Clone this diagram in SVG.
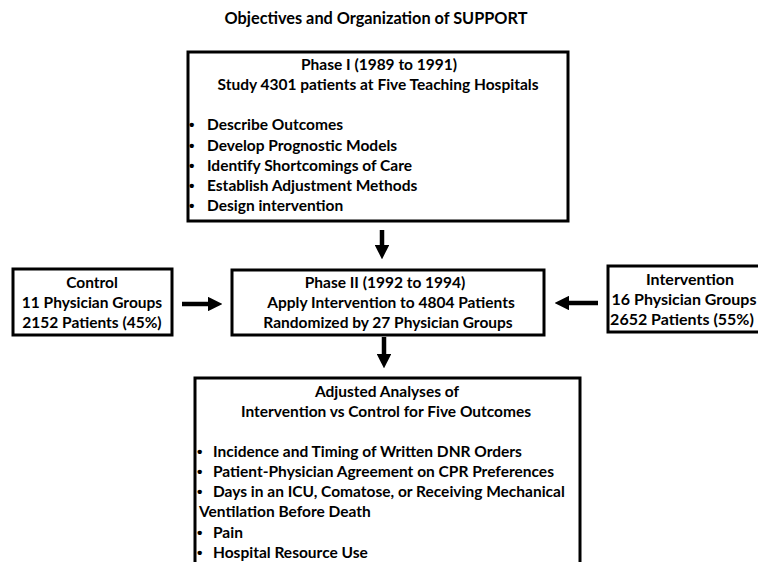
<svg xmlns="http://www.w3.org/2000/svg" width="758" height="562" viewBox="0 0 758 562">
<style>
text{font-family:Lato,"Liberation Sans",sans-serif;font-weight:bold;font-size:15.5px;fill:#000}
.c{text-anchor:middle}
.t{font-size:16.3px}
.iv{font-size:16px}
.box{fill:#fff;stroke:#000;stroke-width:3}
.b{font-family:"Liberation Sans",sans-serif}
</style>
<defs>
<marker id="ah" markerWidth="3.2" markerHeight="3.2" refX="0" refY="1.6" orient="auto" markerUnits="strokeWidth" viewBox="0 0 3.2 3.2">
<path d="M0,0 L3.2,1.6 L0,3.2 Z" fill="#000"/>
</marker>
</defs>
<rect width="758" height="562" fill="#fff"/>
<text class="c t" x="376" y="24">Objectives and Organization of SUPPORT</text>
<g id="phase1">
<rect class="box" x="188" y="52" width="380" height="169"/>
<text class="c" x="379" y="70">Phase I (1989 to 1991)</text>
<text class="c" x="378" y="90">Study 4301 patients at Five Teaching Hospitals</text>
<text class="b" x="189" y="130">•</text><text x="207" y="130">Describe Outcomes</text>
<text class="b" x="189" y="151">•</text><text x="207" y="151">Develop Prognostic Models</text>
<text class="b" x="189" y="171">•</text><text x="207" y="171">Identify Shortcomings of Care</text>
<text class="b" x="189" y="191">•</text><text x="207" y="191">Establish Adjustment Methods</text>
<text class="b" x="189" y="211">•</text><text x="207" y="211">Design intervention</text>
</g>
<g id="control">
<rect class="box" x="13" y="269" width="159" height="66"/>
<text class="c" x="92" y="288">Control</text>
<text class="c" x="92" y="308">11 Physician Groups</text>
<text class="c" x="92" y="328">2152 Patients (45%)</text>
</g>
<g id="phase2">
<rect class="box" x="232" y="270" width="312" height="65"/>
<text class="c" x="385" y="288">Phase II (1992 to 1994)</text>
<text class="c" x="391" y="308">Apply Intervention to 4804 Patients</text>
<text class="c" x="388" y="328">Randomized by 27 Physician Groups</text>
</g>
<g id="intervention">
<rect class="box" x="608" y="266" width="170" height="66"/>
<text class="c iv" x="690" y="285">Intervention</text>
<text class="c iv" x="684" y="305">16 Physician Groups</text>
<text class="c iv" x="682" y="325">2652 Patients (55%)</text>
</g>
<g id="outcomes">
<rect class="box" x="195" y="378" width="385" height="200"/>
<text class="c" x="387" y="397">Adjusted Analyses of</text>
<text class="c" x="386" y="417">Intervention vs Control for Five Outcomes</text>
<text class="b" x="197" y="457">•</text><text x="213" y="457">Incidence and Timing of Written DNR Orders</text>
<text class="b" x="197" y="477">•</text><text x="213" y="477">Patient-Physician Agreement on CPR Preferences</text>
<text class="b" x="197" y="497">•</text><text x="213" y="497">Days in an ICU, Comatose, or Receiving Mechanical</text>
<text x="199" y="517">Ventilation Before Death</text>
<text class="b" x="197" y="538">•</text><text x="213" y="538">Pain</text>
<text class="b" x="197" y="558">•</text><text x="213" y="558">Hospital Resource Use</text>
</g>
<g id="connectors" stroke="#000" stroke-width="4.5" fill="none">
<line x1="382" y1="230" x2="382" y2="245" marker-end="url(#ah)"/>
<line x1="384" y1="337" x2="384" y2="354" marker-end="url(#ah)"/>
<line x1="182" y1="304" x2="208" y2="304" marker-end="url(#ah)"/>
<line x1="598" y1="303" x2="569" y2="303" marker-end="url(#ah)"/>
</g>
</svg>
